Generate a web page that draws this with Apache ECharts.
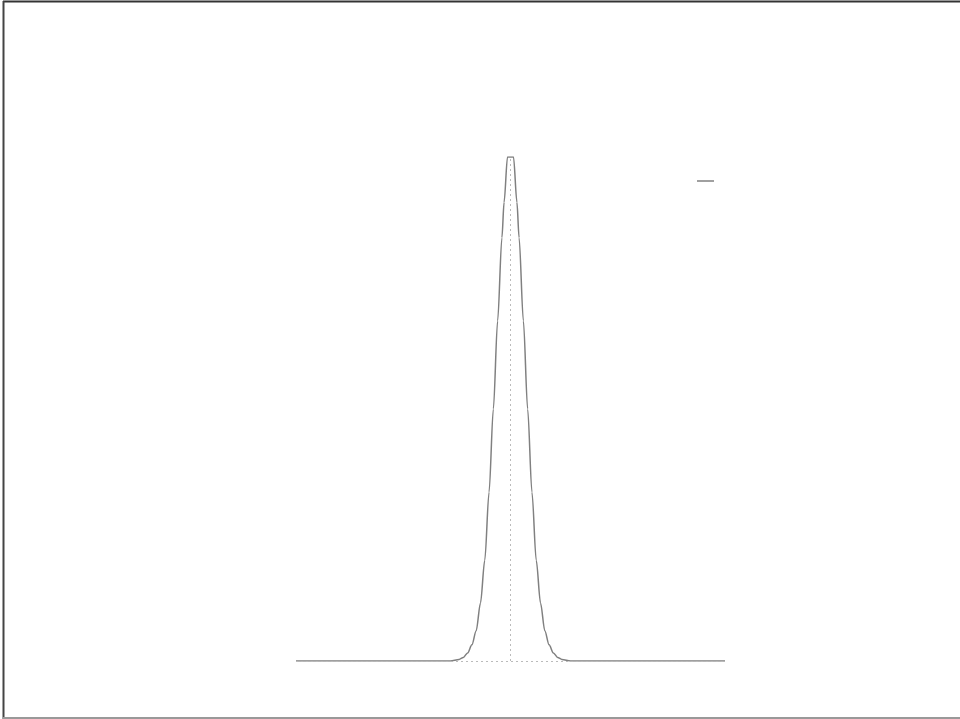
<!DOCTYPE html>
<html>
<head>
<meta charset="utf-8">
<script src="https://cdn.jsdelivr.net/npm/echarts@6/dist/echarts.min.js"></script>
<style>
html,body{margin:0;padding:0;background:#fff;}
#chart{width:960px;height:719px;}
</style>
</head>
<body>
<div id="chart"></div>
<script>
// x positions (arbitrary units, peak centred at 0)
var xValues = [-5, -1.4, -1.2, -1.1, -1.0, -0.9, -0.8, -0.7, -0.6, -0.5, -0.4, -0.3, -0.2, -0.15, -0.07,
               0.07, 0.15, 0.2, 0.3, 0.4, 0.5, 0.6, 0.7, 0.8, 0.9, 1.0, 1.1, 1.2, 1.4, 5];
// intensity (relative)
var yValues = [0, 0, 0.003, 0.007, 0.016, 0.032, 0.06, 0.115, 0.2, 0.335, 0.5, 0.675, 0.84, 0.91, 1.0,
               1.0, 0.91, 0.84, 0.675, 0.5, 0.335, 0.2, 0.115, 0.06, 0.032, 0.016, 0.007, 0.003, 0, 0];
var seriesName = ' ';
var peakX = 0;
var baseY = 0;

var points = xValues.map(function (x, i) { return [x, yValues[i]]; });

var chart = echarts.init(document.getElementById('chart'), null, {renderer: 'canvas'});
chart.setOption({
  animation: false,
  backgroundColor: '#ffffff',
  grid: {left: 296, right: 235, top: 157, bottom: 58},
  xAxis: {type: 'value', min: -5, max: 5, show: false},
  yAxis: {type: 'value', min: 0, max: 1, show: false},
  legend: {
    show: true,
    data: [seriesName],
    left: 697, top: 180,
    padding: 0,
    icon: 'rect',
    itemWidth: 17, itemHeight: 2,
    textStyle: {fontSize: 1, color: '#fff'}
  },
  graphic: [
    {type: 'line', shape: {x1: 3, y1: 1.5, x2: 960, y2: 1.5}, style: {stroke: '#333', lineWidth: 2}},
    {type: 'line', shape: {x1: 3.5, y1: 1, x2: 3.5, y2: 719}, style: {stroke: '#444', lineWidth: 2}},
    {type: 'line', shape: {x1: 3, y1: 718, x2: 960, y2: 718}, style: {stroke: '#999', lineWidth: 2}}
  ],
  series: [{
    name: seriesName,
    type: 'line',
    data: points,
    showSymbol: false,
    smooth: 0.3,
    smoothMonotone: 'x',
    lineStyle: {color: '#808080', width: 1.5},
    itemStyle: {color: '#a0a0a0'},
    markLine: {
      silent: true,
      symbol: ['none', 'none'],
      label: {show: false},
      data: [
        {xAxis: peakX, lineStyle: {type: [2, 3], color: '#bbb', width: 1}},
        {yAxis: baseY, lineStyle: {type: [2, 3], color: '#bbb', width: 1}}
      ]
    }
  }]
});
</script>
</body>
</html>
